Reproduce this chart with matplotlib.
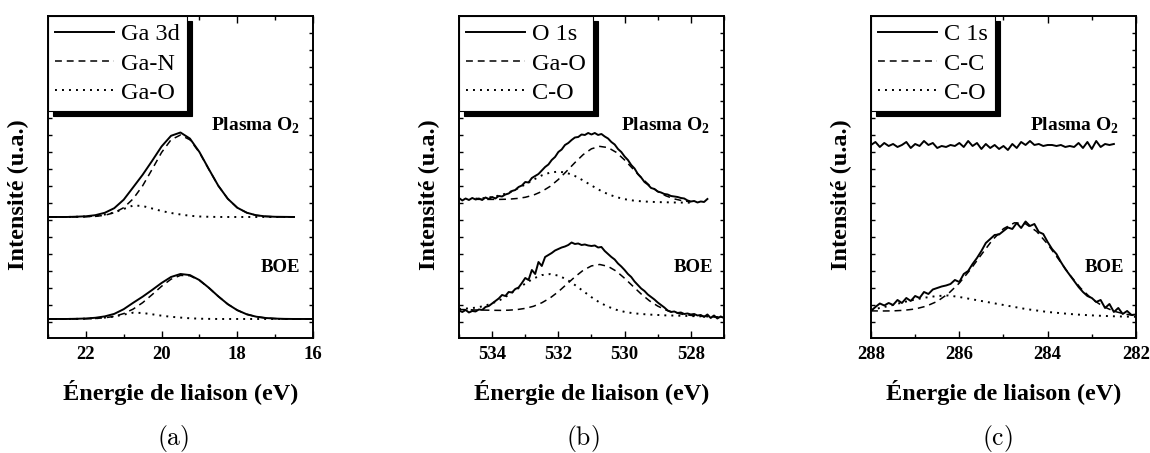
import numpy as np
import matplotlib
matplotlib.use("Agg")
import matplotlib.pyplot as plt
from matplotlib.ticker import MultipleLocator, FixedLocator
from matplotlib.lines import Line2D

plt.rcParams['font.family'] = ['Liberation Serif', 'DejaVu Serif']
plt.rcParams['font.weight'] = 'bold'
plt.rcParams['axes.labelweight'] = 'bold'
plt.rcParams['mathtext.fontset'] = 'custom'
plt.rcParams['mathtext.rm'] = 'Liberation Serif'
plt.rcParams['mathtext.bf'] = 'Liberation Serif:bold'

# ---- (a) Ga 3d : values (arbitrary intensity units) ----
e_ga_plasma = np.linspace(23.0, 16.5, 27)
e_ga_boe = np.linspace(23.0, 16.0, 29)
ga3d_plasma = [121.0, 121.0, 121.0, 121.3, 121.7, 122.8, 125.2, 129.8, 138.3, 150.7,
               163.2, 177.1, 191.5, 202.2, 205.5, 199.4, 186.0, 168.8, 152.2, 139.2,
               130.3, 125.3, 122.7, 121.6, 121.2, 121.1, 121.0]
gan_plasma = [121.0, 121.0, 121.0, 121.1, 121.2, 121.6, 122.7, 125.3, 130.3, 139.2,
              152.2, 168.6, 185.5, 198.2, 203.0, 198.2, 185.5, 168.6, 152.2, 139.2,
              130.3, 125.3, 122.7, 121.6, 121.2, 121.1, 121.0]
gao_plasma = [121.0, 121.0, 121.0, 121.2, 121.5, 122.2, 123.5, 125.5, 129.0, 132.5,
              132.0, 129.5, 127.0, 125.0, 123.5, 122.2, 121.5, 121.2, 121.0, 121.0,
              121.0, 121.0, 121.0, 121.0, 121.0, 121.0, 121.0]
ga3d_boe = [19.0, 19.0, 19.0, 19.2, 19.5, 20.2, 21.6, 24.1, 28.8, 35.2,
            41.3, 48.0, 55.0, 61.0, 64.0, 62.9, 57.9, 50.2, 41.6, 33.8,
            27.8, 23.7, 21.3, 20.0, 19.4, 19.1, 19.0, 19.0, 19.0]
gan_boe = [19.0, 19.0, 19.0, 19.1, 19.2, 19.5, 20.2, 21.6, 24.4, 28.9,
           35.3, 43.3, 51.7, 58.8, 62.6, 62.2, 57.6, 50.1, 41.6, 33.8,
           27.8, 23.7, 21.3, 20.0, 19.4, 19.1, 19.0, 19.0, 19.0]
gao_boe = [19.0, 19.0, 19.0, 19.1, 19.3, 19.7, 20.4, 21.5, 23.4, 25.3,
           25.0, 23.7, 22.3, 21.2, 20.4, 19.7, 19.3, 19.1, 19.0, 19.0,
           19.0, 19.0, 19.0, 19.0, 19.0, 19.0, 19.0, 19.0, 19.0]

# ---- (b) O 1s ----
e_o_plasma = np.linspace(535.0, 527.5, 76)
e_o_plasma_fit = np.linspace(534.5, 528.0, 27)
e_o_boe = np.linspace(535.0, 527.0, 81)
e_o_boe_fit = np.linspace(535.0, 527.0, 33)
o1s_plasma = [140, 137.5, 139.5, 138, 140, 138.5, 139.5, 138, 140.5, 139,
              141, 139.5, 142, 141.5, 143.5, 144.5, 147, 148, 151, 152.5,
              156, 155.5, 160, 162, 164, 167.5, 171, 173.5, 178, 181,
              186, 188.5, 193, 195, 198, 200.5, 201, 203.5, 203, 205,
              203.5, 205, 203, 204, 201.5, 199.5, 196, 193.5, 189, 186,
              181.5, 178, 173, 169.5, 164, 160.5, 156, 153.5, 150, 149,
              146.5, 145.5, 144, 143.5, 142, 141.5, 141, 140, 139.5, 137.5,
              136.5, 137, 135.5, 136.5, 136, 139]
gao_o_plasma = [138.7, 138.6, 138.6, 138.6, 138.8, 139.5, 140.7, 142.9, 146.5, 151.6,
                158.5, 166.8, 175.4, 183.4, 189.2, 191.6, 190.4, 185.6, 178.0, 169.2,
                160.5, 152.6, 146.5, 142.1, 139.1, 137.2, 136.2]
co_o_plasma = [139.3, 139.9, 141.0, 142.7, 145.4, 149.2, 153.5, 158.3, 162.6, 165.4,
               166.4, 165.2, 162.0, 157.5, 152.5, 147.8, 143.8, 140.9, 138.8, 137.5,
               136.7, 136.2, 135.9, 135.7, 135.5, 135.4, 135.3]
o1s_boe = [27.5, 26, 28, 25.5, 27, 26.5, 28.5, 28, 31, 32,
           34.5, 37, 39.5, 43, 42, 46, 45.5, 49, 50.5, 55,
           60, 58, 68, 64, 76, 72, 81, 83, 85, 87.5,
           89, 90.5, 91.5, 93, 95.5, 94, 94.5, 93, 93.5, 92.5,
           92, 92.5, 90.5, 91, 87, 84, 81, 78.5, 74.5, 71.5,
           68, 64, 61, 56.5, 53, 49.5, 47, 43.5, 41, 38.5,
           35.5, 33, 30.5, 27.5, 26, 26.5, 25, 25.5, 24, 24.5,
           23.5, 24, 22.5, 23, 21, 23.5, 20, 22.5, 19.5, 21.5, 20]
gao_o_boe = [28.5, 28.3, 28.0, 27.9, 27.7, 27.6, 27.8, 28.4, 29.6, 31.7,
             35.2, 40.0, 46.3, 53.7, 61.1, 67.7, 72.1, 73.5, 71.6, 66.8,
             59.7, 51.8, 44.0, 37.2, 31.9, 27.9, 25.4, 23.7, 22.6, 22.0,
             21.6, 21.2, 21.0]
co_o_boe = [29.1, 29.5, 30.3, 31.9, 34.6, 38.2, 43.1, 48.8, 54.4, 59.5,
            62.9, 63.9, 62.4, 58.6, 53.0, 46.9, 40.8, 35.4, 31.3, 28.2,
            26.1, 24.8, 24.0, 23.4, 23.0, 22.6, 22.4, 22.2, 21.9, 21.7,
            21.5, 21.2, 21.0]

# ---- (c) C 1s ----
e_c_plasma = np.linspace(288.0, 282.5, 56)
e_c_boe = np.linspace(288.0, 282.0, 61)
e_c_boe_fit = np.linspace(288.0, 282.0, 25)
c1s_plasma = [193, 196, 191, 195, 192, 194, 191, 193, 196, 190,
              194, 192, 197, 193, 195, 190, 192, 191, 193, 192,
              195, 191, 197, 192, 195, 189, 194, 190, 193, 189,
              192, 188, 194, 190, 196, 193, 197, 193, 194, 192,
              193, 193, 192, 193, 191, 192, 191, 195, 190, 196,
              189, 197, 191, 194, 193, 194]
c1s_boe = [27, 31, 34.5, 32.5, 35, 33, 38, 35, 40, 37,
           42, 40, 46, 44, 48.5, 50, 51.5, 52.5, 54, 58,
           56, 64, 67, 74, 80, 87, 95, 99, 103, 103.5,
           107, 110.5, 109, 115, 110, 116.5, 112, 114, 106, 104,
           96, 89, 84, 76, 69, 63, 57, 51, 46, 42,
           40, 36, 38, 30, 34, 26, 30, 24, 27, 23, 23.5]
cc_boe = [27.1, 27.0, 27.1, 27.7, 29.0, 31.8, 36.6, 44.3, 54.9, 68.4,
          83.4, 98.0, 109.3, 115.2, 114.2, 106.6, 93.9, 78.6, 63.2, 49.7,
          39.1, 31.7, 26.8, 23.9, 22.2]
co_c_boe = [28, 30.5, 33, 36, 38.5, 40.5, 42, 42.5, 41, 39,
            37, 35, 33, 31, 29, 27.5, 26, 25, 24, 23.2,
            22.6, 22.1, 21.7, 21.4, 21.2]

legend_labels = [['Ga 3d', 'Ga-N', 'Ga-O'],
                 ['O 1s', 'Ga-O', 'C-O'],
                 ['C 1s', 'C-C', 'C-O']]
captions = ['(a)', '(b)', '(c)']

SOLID = dict(color='black', lw=1.4, ls='-')
DASH = dict(color='black', lw=1.1, ls=(0, (4.5, 3.2)))
DOT = dict(color='black', lw=1.4, ls=(0, (1, 2.6)))

fig = plt.figure(figsize=(11.5, 4.53), dpi=100)
lefts = [48 / 1150, 459 / 1150, 871 / 1150]
caption_x = [173 / 1150, 583 / 1150, 997 / 1150]
xlims = [(23, 16), (535, 527), (288, 282)]
label_x = [(0.951, 0.951), (0.947, 0.958), (0.936, 0.955)]

axes = [fig.add_axes([l, 0.2539, 0.2304, 0.7108]) for l in lefts]

# (a)
ax = axes[0]
ax.plot(e_ga_plasma, ga3d_plasma, **SOLID)
ax.plot(e_ga_plasma, gan_plasma, **DASH)
ax.plot(e_ga_plasma, gao_plasma, **DOT)
ax.plot(e_ga_boe, ga3d_boe, **SOLID)
ax.plot(e_ga_boe, gan_boe, **DASH)
ax.plot(e_ga_boe, gao_boe, **DOT)

# (b)
ax = axes[1]
ax.plot(e_o_plasma, o1s_plasma, **SOLID)
ax.plot(e_o_plasma_fit, gao_o_plasma, **DASH)
ax.plot(e_o_plasma_fit, co_o_plasma, **DOT)
ax.plot(e_o_boe, o1s_boe, **SOLID)
ax.plot(e_o_boe_fit, gao_o_boe, **DASH)
ax.plot(e_o_boe_fit, co_o_boe, **DOT)

# (c)
ax = axes[2]
ax.plot(e_c_plasma, c1s_plasma, **SOLID)
ax.plot(e_c_boe, c1s_boe, **SOLID)
ax.plot(e_c_boe_fit, cc_boe, **DASH)
ax.plot(e_c_boe_fit, co_c_boe, **DOT)

for i, ax in enumerate(axes):
    ax.set_xlim(*xlims[i])
    ax.set_ylim(0, 322)
    ax.xaxis.set_major_locator(MultipleLocator(2))
    ax.xaxis.set_minor_locator(MultipleLocator(1))
    ax.yaxis.set_major_locator(FixedLocator(np.arange(16, 322, 17)))
    ax.tick_params(which='both', direction='in', top=True, right=True, width=1.0)
    ax.tick_params(axis='x', which='major', length=5, pad=6, labelsize=13.5)
    ax.tick_params(axis='x', which='minor', length=3)
    ax.tick_params(axis='y', which='major', length=3, labelleft=False)
    for s in ax.spines.values():
        s.set_linewidth(1.4)

    ax.set_ylabel('Intensité (u.a.)', fontsize=17.5, fontweight='bold')
    ax.yaxis.set_label_coords(-0.072, 0.444)
    ax.set_xlabel('Énergie de liaison (eV)', fontsize=17.5, fontweight='bold')
    ax.xaxis.set_label_coords(0.5, -0.13)

    tr = ax.get_yaxis_transform()
    ax.text(label_x[i][0], 212, 'Plasma O$_\\mathbf{2}$', transform=tr,
            ha='right', va='center', fontsize=14)
    ax.text(label_x[i][1], 70, 'BOE', transform=tr,
            ha='right', va='center', fontsize=13.5)

    handles = [Line2D([], [], **SOLID), Line2D([], [], **DASH), Line2D([], [], **DOT)]
    leg = ax.legend(handles, legend_labels[i], loc='upper left',
                    bbox_to_anchor=(0, 1), borderaxespad=0, fancybox=False,
                    shadow={'color': 'black', 'alpha': 1, 'ox': 3.6, 'oy': -3.6},
                    prop={'family': 'Liberation Serif', 'weight': 'normal', 'size': 17.5},
                    handlelength=2.4, handletextpad=0.3, borderpad=0.3,
                    labelspacing=0.3, framealpha=1)
    leg.get_frame().set_edgecolor('black')
    leg.get_frame().set_linewidth(0.8)

    fig.text(caption_x[i], 0.033, r'$\mathrm{' + captions[i] + '}$',
             math_fontfamily='cm', fontsize=18.5, ha='center', va='center')

fig.savefig('out.png', dpi=100)
